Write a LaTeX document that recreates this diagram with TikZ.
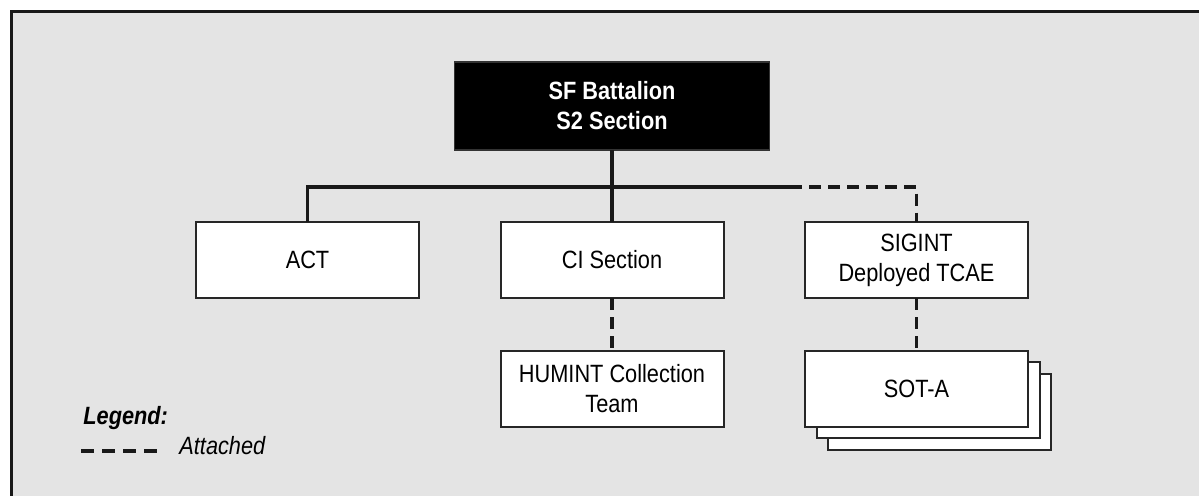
\documentclass[tikz,border=0pt]{standalone}
\usepackage{fontspec}
\setmainfont[FakeStretch=0.87]{Liberation Sans}
\begin{document}
\begin{tikzpicture}[x=0.5pt,y=-0.5pt,
  box/.style={draw=black!85,line width=1pt,fill=white,minimum width=111.5pt,minimum height=38pt,inner sep=0pt,outer sep=0pt,align=center,font=\fontsize{12.5pt}{15pt}\selectfont},
  topbox/.style={fill=black,draw=black!80,line width=0.6pt,minimum width=157.5pt,minimum height=44pt,inner sep=0pt,outer sep=0pt,align=center,text=white,font=\fontsize{12.5pt}{15pt}\selectfont\bfseries},
  conn/.style={line width=1.6pt,black!90},
  dconn/.style={conn,dash pattern=on 6pt off 3.5pt}]
\useasboundingbox (0,0) rectangle (1199,495);
\clip (0,0) rectangle (1199,495);
\fill[white] (0,0) rectangle (1199,495);
\fill[black!10.5] (11,11) rectangle (1210,510);
\draw[line width=1.5pt,black!90] (11,510) -- (11,11) -- (1210,11);
% nodes
\node[topbox] (top) at (612,106) {SF Battalion\\S2 Section};
\node[box] (act) at (307.5,260) {ACT};
\node[box] (ci) at (612,260) {CI Section};
\node[box] (sig) at (916.5,260) {SIGINT\\Deployed TCAE};
\node[box] (hum) at (612,388.5) {HUMINT Collection\\Team};
\node[box] (sota3) at (939.5,411.5) {};
\node[box] (sota2) at (928,400) {};
\node[box] (sota) at (916.5,388.5) {SOT-A};
% connectors
\coordinate (busR) at (790,187);
\draw[conn] (act.north) |- (busR);
\draw[conn] (top.south) -- (ci.north);
\draw[dconn] (busR) -| (sig.north);
\draw[dconn] (ci.south) -- (hum.north);
\draw[dconn] (sig.south) -- (sota.north);
% legend
\node[anchor=base west,inner sep=0pt,font=\fontsize{12.5pt}{15pt}\selectfont\bfseries\itshape] (legend) at (83,424) {Legend:};
\node[anchor=base west,inner sep=0pt,font=\fontsize{12.5pt}{15pt}\selectfont\itshape] (attached) at (179,454) {Attached};
\coordinate (lgA) at (81,451);
\coordinate (lgB) at (158,451);
\draw[conn,dash pattern=on 6.5pt off 4pt] (lgA) -- (lgB);
\end{tikzpicture}
\end{document}
